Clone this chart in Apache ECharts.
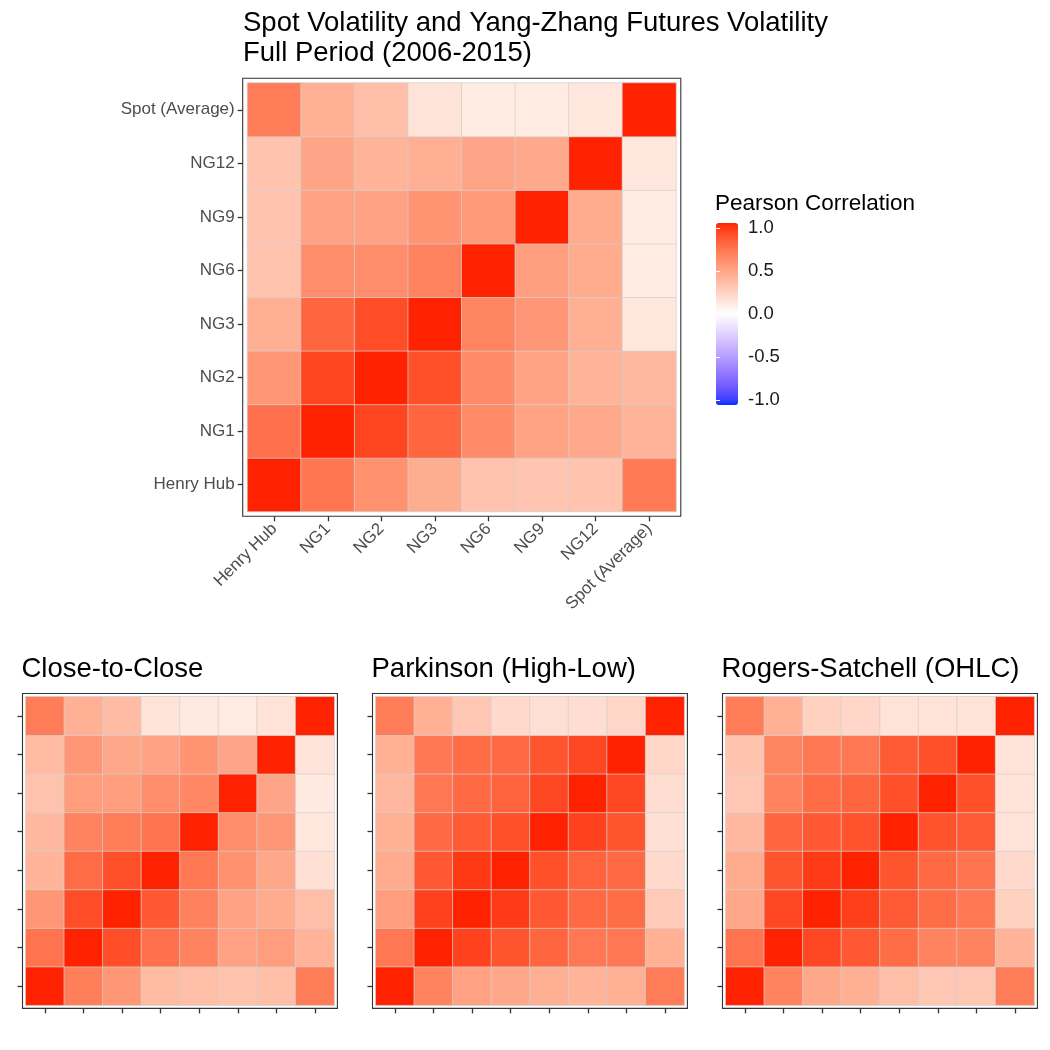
<!DOCTYPE html>
<html>
<head>
<meta charset="utf-8">
<script src="https://cdn.jsdelivr.net/npm/echarts@6/dist/echarts.min.js"></script>
<style>
  html, body { margin: 0; padding: 0; background: #fff; }
  #main { width: 1050px; height: 1050px; }
</style>
</head>
<body>
<div id="main"></div>
<script>
// categories (bottom -> top on y, left -> right on x)
var labels = ['Henry Hub', 'NG1', 'NG2', 'NG3', 'NG6', 'NG9', 'NG12', 'Spot (Average)'];
var legendTicks = [1.0, 0.5, 0.0, -0.5, -1.0];

// rows follow labels order: row i = y category i, columns = x categories
var yangZhang = [
    [1.00, 0.71, 0.58, 0.44, 0.33, 0.31, 0.32, 0.69],
    [0.73, 1.00, 0.91, 0.78, 0.61, 0.49, 0.46, 0.40],
    [0.55, 0.91, 1.00, 0.87, 0.61, 0.49, 0.40, 0.38],
    [0.43, 0.78, 0.88, 1.00, 0.64, 0.55, 0.43, 0.13],
    [0.33, 0.60, 0.60, 0.65, 1.00, 0.51, 0.45, 0.11],
    [0.32, 0.50, 0.50, 0.57, 0.54, 1.00, 0.45, 0.11],
    [0.32, 0.48, 0.40, 0.43, 0.48, 0.46, 1.00, 0.13],
    [0.68, 0.42, 0.35, 0.15, 0.11, 0.11, 0.13, 1.00]
];
var closeToClose = [
    [1.00, 0.67, 0.55, 0.37, 0.35, 0.33, 0.35, 0.68],
    [0.72, 1.00, 0.88, 0.73, 0.65, 0.50, 0.52, 0.40],
    [0.55, 0.88, 1.00, 0.84, 0.66, 0.50, 0.45, 0.35],
    [0.40, 0.76, 0.87, 1.00, 0.70, 0.58, 0.47, 0.17],
    [0.38, 0.65, 0.68, 0.72, 1.00, 0.60, 0.55, 0.13],
    [0.33, 0.52, 0.52, 0.60, 0.63, 1.00, 0.48, 0.12],
    [0.37, 0.55, 0.47, 0.50, 0.57, 0.48, 1.00, 0.15],
    [0.68, 0.42, 0.36, 0.15, 0.12, 0.11, 0.15, 1.00]
];
var parkinson = [
    [1.00, 0.65, 0.50, 0.47, 0.43, 0.40, 0.42, 0.68],
    [0.70, 1.00, 0.92, 0.85, 0.78, 0.70, 0.70, 0.42],
    [0.52, 0.92, 1.00, 0.94, 0.84, 0.77, 0.75, 0.28],
    [0.45, 0.84, 0.95, 1.00, 0.87, 0.80, 0.77, 0.20],
    [0.42, 0.77, 0.83, 0.87, 1.00, 0.92, 0.85, 0.17],
    [0.38, 0.70, 0.77, 0.80, 0.90, 1.00, 0.90, 0.18],
    [0.42, 0.70, 0.75, 0.77, 0.85, 0.90, 1.00, 0.22],
    [0.68, 0.42, 0.30, 0.20, 0.17, 0.18, 0.22, 1.00]
];
var rogersSatchell = [
    [1.00, 0.65, 0.47, 0.43, 0.35, 0.30, 0.30, 0.68],
    [0.72, 1.00, 0.90, 0.84, 0.75, 0.65, 0.65, 0.40],
    [0.47, 0.90, 1.00, 0.93, 0.83, 0.75, 0.70, 0.25],
    [0.45, 0.85, 0.94, 1.00, 0.85, 0.77, 0.72, 0.20],
    [0.38, 0.78, 0.84, 0.86, 1.00, 0.86, 0.83, 0.15],
    [0.30, 0.65, 0.75, 0.78, 0.87, 1.00, 0.87, 0.15],
    [0.32, 0.64, 0.70, 0.70, 0.83, 0.87, 1.00, 0.15],
    [0.68, 0.42, 0.25, 0.22, 0.15, 0.15, 0.15, 1.00]
];

var FONT = '"Liberation Sans", Arial, Helvetica, sans-serif';

// colour scale blue - white - red, interpolated in Lab like ggplot
function toLab(hex) {
    var c = [1, 3, 5].map(function (i) {
        var v = parseInt(hex.substr(i, 2), 16) / 255;
        return v <= 0.04045 ? v / 12.92 : Math.pow((v + 0.055) / 1.055, 2.4);
    });
    var x = (c[0] * 0.4124 + c[1] * 0.3576 + c[2] * 0.1805) / 0.95047;
    var y = (c[0] * 0.2126 + c[1] * 0.7152 + c[2] * 0.0722);
    var z = (c[0] * 0.0193 + c[1] * 0.1192 + c[2] * 0.9505) / 1.08883;
    var f = function (t) { return t > 0.008856 ? Math.cbrt(t) : 7.787 * t + 16 / 116; };
    return [116 * f(y) - 16, 500 * (f(x) - f(y)), 200 * (f(y) - f(z))];
}
function fromLab(lab) {
    var fy = (lab[0] + 16) / 116, fx = fy + lab[1] / 500, fz = fy - lab[2] / 200;
    var g = function (t) { return t > 0.206893 ? t * t * t : (t - 16 / 116) / 7.787; };
    var x = g(fx) * 0.95047, y = g(fy), z = g(fz) * 1.08883;
    var r = x * 3.2406 + y * -1.5372 + z * -0.4986;
    var gg = x * -0.9689 + y * 1.8758 + z * 0.0415;
    var b = x * 0.0557 + y * -0.2040 + z * 1.0570;
    return '#' + [r, gg, b].map(function (v) {
        v = v <= 0.0031308 ? 12.92 * v : 1.055 * Math.pow(v, 1 / 2.4) - 0.055;
        v = Math.round(Math.max(0, Math.min(1, v)) * 255);
        return (v < 16 ? '0' : '') + v.toString(16);
    }).join('');
}
function gradient(lo, mid, hi, n) {
    var a = toLab(lo), m = toLab(mid), b = toLab(hi), out = [];
    for (var i = 0; i <= n; i++) {
        var t = i / n * 2, p, q, s;
        if (t <= 1) { p = a; q = m; s = t; } else { p = m; q = b; s = t - 1; }
        out.push(fromLab([0, 1, 2].map(function (k) { return p[k] + (q[k] - p[k]) * s; })));
    }
    return out;
}
var scaleColors = gradient('#0033ff', '#ffffff', '#ff2200', 40);

function toCells(m) {
    var d = [];
    for (var y = 0; y < m.length; y++) {
        for (var x = 0; x < m[y].length; x++) d.push([x, y, m[y][x]]);
    }
    return d;
}

// panel geometry
var panels = [
    { name: 'main', data: yangZhang, left: 247.5, top: 83, size: 428.5, pad: 4.8, big: true },
    { name: 'cc', title: 'Close-to-Close', data: closeToClose, left: 25.7, top: 696.7, size: 308.5, pad: 3.2 },
    { name: 'pk', title: 'Parkinson (High-Low)', data: parkinson, left: 375.7, top: 696.7, size: 308.5, pad: 3.2 },
    { name: 'rs', title: 'Rogers-Satchell (OHLC)', data: rogersSatchell, left: 725.7, top: 696.7, size: 308.5, pad: 3.2 }
];

var grids = [], xAxes = [], yAxes = [], series = [], graphics = [], titles = [];

titles.push({
    text: 'Spot Volatility and Yang-Zhang Futures Volatility\nFull Period (2006-2015)',
    left: 238, top: 4,
    textStyle: { fontFamily: FONT, fontSize: 27.5, fontWeight: 'normal', color: '#000', lineHeight: 29.5 }
});

panels.forEach(function (p, i) {
    grids.push({ left: p.left, top: p.top, width: p.size, height: p.size });
    var tickStyle = { show: true, interval: 0, alignWithLabel: true, length: 5, lineStyle: { color: '#333', width: 1.3 } };
    var lab = { interval: 0, fontFamily: FONT, fontSize: 17, color: '#4d4d4d', margin: 8 };
    xAxes.push({
        type: 'category', gridIndex: i, data: labels, offset: p.pad,
        axisLine: { show: false }, axisTick: tickStyle, splitLine: { show: false },
        axisLabel: p.big ? Object.assign({}, lab, { rotate: 45, margin: 10 }) : { show: false, interval: 0 }
    });
    yAxes.push({
        type: 'category', gridIndex: i, data: labels, offset: p.pad,
        axisLine: { show: false }, axisTick: tickStyle, splitLine: { show: false },
        axisLabel: p.big ? lab : { show: false, interval: 0 }
    });
    series.push({
        type: 'heatmap', name: p.name, xAxisIndex: i, yAxisIndex: i,
        data: toCells(p.data),
        itemStyle: { borderColor: '#d0d0d0', borderWidth: 0.7 },
        emphasis: { disabled: true }
    });
    graphics.push({
        type: 'rect', z: 100,
        shape: { x: p.left - p.pad, y: p.top - p.pad, width: p.size + 2 * p.pad, height: p.size + 2 * p.pad },
        style: { fill: null, stroke: '#333', lineWidth: 1.1 }
    });
    if (p.title) {
        titles.push({
            text: p.title, left: p.left - p.pad - 6, top: 650,
            textStyle: { fontFamily: FONT, fontSize: 27.5, fontWeight: 'normal', color: '#000', lineHeight: 28 }
        });
    }
});

// legend: tick labels for the colour bar
titles.push({
    text: 'Pearson Correlation', left: 710, top: 187,
    textStyle: { fontFamily: FONT, fontSize: 22.5, fontWeight: 'normal', color: '#000', lineHeight: 24 }
});
grids.push({ left: 716, top: 228, width: 22, height: 172 });
xAxes.push({ type: 'value', gridIndex: 4, show: false });
var legendAxis = {
    type: 'value', gridIndex: 4, min: -1, max: 1, interval: 0.5, z: 10,
    axisLine: { show: false }, splitLine: { show: false },
    axisTick: { show: true, inside: true, length: 4, lineStyle: { color: '#fff', width: 1 } }
};
yAxes.push(Object.assign({}, legendAxis, {
    position: 'right',
    axisLabel: {
        fontFamily: FONT, fontSize: 18.5, color: '#1a1a1a', margin: 10,
        formatter: function (v) { return legendTicks.indexOf(v) >= 0 ? v.toFixed(1) : ''; }
    }
}));
yAxes.push(Object.assign({}, legendAxis, { position: 'left', axisLabel: { show: false } }));

var myChart = echarts.init(document.getElementById('main'), null, { renderer: 'canvas' });
var option = {
    backgroundColor: '#fff',
    animation: false,
    title: titles,
    grid: grids,
    xAxis: xAxes,
    yAxis: yAxes,
    visualMap: {
        type: 'continuous', min: -1, max: 1, seriesIndex: [0, 1, 2, 3],
        left: 716, top: 223, itemWidth: 22, itemHeight: 182, padding: 0,
        calculable: false, hoverLink: false, text: null, showLabel: false,
        inRange: { color: scaleColors }
    },
    graphic: graphics,
    series: series
};
myChart.setOption(option);
window.addEventListener('resize', function () { myChart.resize(); });
</script>
</body>
</html>
